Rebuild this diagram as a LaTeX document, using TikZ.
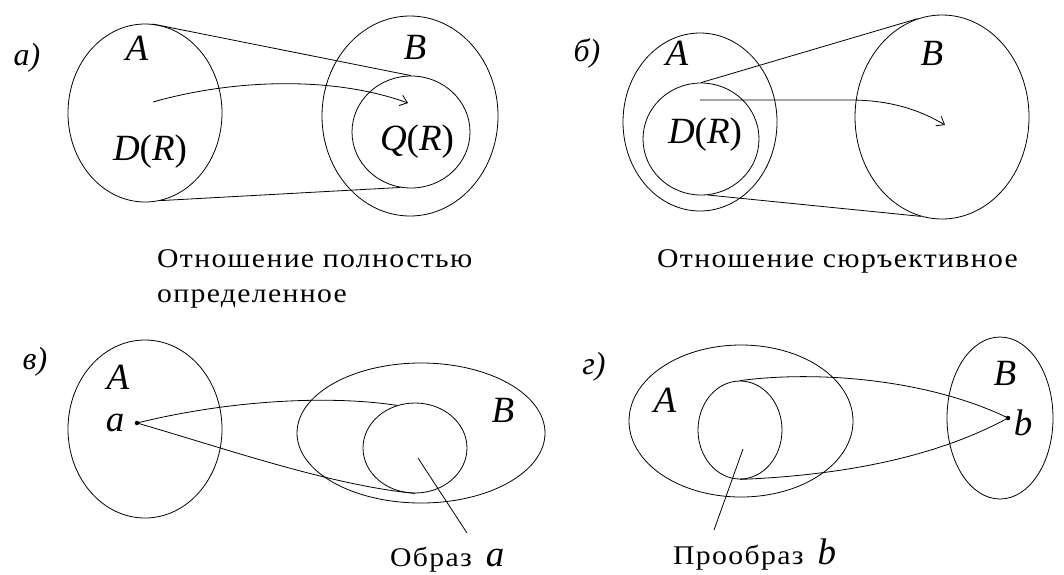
\documentclass[tikz,border=0pt]{standalone}
\usepackage{fontspec}
\setmainfont{Liberation Serif}
\newfontfamily\capfont[LetterSpace=5,FakeStretch=1.1]{Liberation Serif}
\usetikzlibrary{shapes.geometric,arrows.meta}
\begin{document}
\begin{tikzpicture}[x=1pt,y=-1pt,
  set/.style={draw, ellipse, line width=0.8pt, inner sep=0pt},
  lbl/.style={font=\fontsize{37}{40}\selectfont\itshape, inner sep=0pt},
  plbl/.style={font=\fontsize{32}{34}\selectfont\itshape, inner sep=0pt},
  captext/.style={font=\capfont\fontsize{27}{35}\selectfont, inner sep=0pt, align=left},
  ln/.style={line width=0.8pt},
  arr/.style={ln, -{Straight Barb[length=7pt,width=11pt]}},
  dot/.style={circle, fill, inner sep=0pt, minimum size=4.5pt}
]
\useasboundingbox (0,0) rectangle (1064,574);

% ---------- panel a
\node[plbl] (pa) at (27,58) {а)};
\node[set, minimum width=154pt, minimum height=178pt] (aA) at (145,113) {};
\node[set, minimum width=176pt, minimum height=200pt] (aB) at (410,116) {};
\node[set, minimum width=118pt, minimum height=112pt] (aQ) at (411,132) {};
\node[lbl] (aAl) at (137,48) {A};
\node[lbl] (aBl) at (415,47) {B};
\node[lbl] (aDl) at (150,152) {D\upshape(\itshape R\upshape)};
\node[lbl] (aQl) at (417,142) {Q\upshape(\itshape R\upshape)};
\draw[ln] (aA.85) -- (aQ.north);
\draw[ln] (aA.280) -- (aQ.259);
\coordinate (as) at (153,102);
\coordinate (ae) at (408,103);
\draw[arr] (as) .. controls (230,80) and (330,75) .. (ae);

% ---------- panel b
\node[plbl] (pb) at (587,53) {б)};
\node[set, minimum width=154pt, minimum height=178pt] (bA) at (700,122) {};
\node[set, minimum width=116pt, minimum height=112pt] (bD) at (701,139) {};
\node[set, minimum width=174pt, minimum height=204pt] (bB) at (942,117) {};
\node[lbl] (bAl) at (677,53) {A};
\node[lbl] (bBl) at (932,53) {B};
\node[lbl] (bDl) at (705,135) {D\upshape(\itshape R\upshape)};
\draw[ln] (bD.north) -- (bB.104);
\draw[ln] (bD.277) -- (bB.258);
\coordinate (bs) at (700,100);
\coordinate (bm) at (850,100);
\coordinate (be) at (945,125);
\draw[arr] (bs) -- (bm) .. controls (890,100) and (920,110) .. (be);

% ---------- captions
\node[captext, anchor=north west] (c1) at (157,249) {Отношение полностью\\определенное};
\node[captext, anchor=west] (c2) at (657,261) {Отношение сюръективное};

% ---------- panel v
\node[plbl] (pv) at (35,362) {в)};
\node[set, minimum width=154pt, minimum height=178pt] (cA) at (145,429) {};
\node[set, minimum width=248pt, minimum height=140pt] (cB) at (421,433) {};
\node[set, minimum width=104pt, minimum height=90pt] (cI) at (415,448) {};
\node[lbl] (cAl) at (118,377) {A};
\node[lbl] (cBl) at (503,410) {B};
\node[lbl] (cal) at (115,423) {a};
\node[dot] (ca) at (137,423) {};
\draw[ln] (ca.center) .. controls (230,400) and (330,395) .. (cI.113);
\draw[ln] (ca.center) .. controls (230,450) and (330,485) .. (cI.south);
\coordinate (cp1) at (418,458);
\coordinate (cp2) at (467,533);
\draw[ln] (cp1) -- (cp2);
\node[anchor=base west, inner sep=0pt] (cobr) at (390,566)
  {{\capfont\fontsize{27}{30}\selectfont Образ\hspace{14pt}}{\fontsize{37}{40}\selectfont\itshape a}};

% ---------- panel g
\node[plbl] (pg) at (594,367) {г)};
\node[set, minimum width=224pt, minimum height=152pt] (dA) at (741,421) {};
\node[set, minimum width=84pt, minimum height=98pt] (dI) at (740,430) {};
\node[set, minimum width=106pt, minimum height=162pt] (dB) at (1000,418) {};
\node[lbl] (dAl) at (665,400) {A};
\node[lbl] (dBl) at (1005,373) {B};
\node[lbl] (dbl) at (1023,423) {b};
\node[dot] (db) at (1008,418) {};
\draw[ln] (dI.north) .. controls (820,370) and (930,380) .. (db.center);
\draw[ln] (dI.south) .. controls (850,475) and (940,455) .. (db.center);
\coordinate (dp1) at (743,449);
\coordinate (dp2) at (714,530);
\draw[ln] (dp1) -- (dp2);
\node[anchor=base west, inner sep=0pt] (dobr) at (673,564)
  {{\capfont\fontsize{27}{30}\selectfont Прообраз\hspace{14pt}}{\fontsize{37}{40}\selectfont\itshape b}};
\end{tikzpicture}
\end{document}
